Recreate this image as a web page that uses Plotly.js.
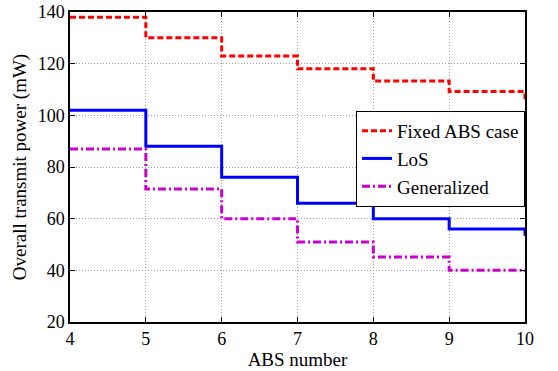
<!DOCTYPE html>
<html>
<head>
<meta charset="utf-8">
<script src="https://cdn.plot.ly/plotly-3.0.1.min.js"></script>
<style>
html,body{margin:0;padding:0;background:#fff;}
#chart{width:558px;height:371px;}
svg text{font-family:"Times New Roman","Liberation Serif",serif !important;}
</style>
</head>
<body>
<div id="chart"></div>
<script>
const absNumber = [4, 5, 6, 7, 8, 9, 10];
const fixedABS = [138, 130, 123, 118, 113.3, 109.2, 106];
const losPower = [102, 88, 76, 66, 60, 56, 53.4];
const generalized = [87, 71.5, 60, 51, 45.2, 40, 39.5];
const yTicks = [20, 40, 60, 80, 100, 120, 140];
const seriesNames = ["Fixed ABS case", "LoS", "Generalized"];

const serif = "Times New Roman";

const traces = [
  {x: absNumber, y: fixedABS, name: seriesNames[0], mode: "lines",
   line: {shape: "hv", color: "#ff0000", width: 3, dash: "6px,3px"}},
  {x: absNumber, y: losPower, name: seriesNames[1], mode: "lines",
   line: {shape: "hv", color: "#0000ff", width: 3}},
  {x: absNumber, y: generalized, name: seriesNames[2], mode: "lines",
   line: {shape: "hv", color: "#cc00cc", width: 3, dash: "8px,3px,2px,3px"}}
];

function axisBase() {
  return {
    showline: true, linecolor: "#000", linewidth: 1.5, mirror: "ticks",
    ticks: "inside", ticklen: 5, tickcolor: "#000", tickwidth: 1,
    showgrid: true, gridcolor: "#a0a0a0", griddash: "1px,2px", gridwidth: 1,
    zeroline: false, tickfont: {family: serif, size: 18, color: "#000"}
  };
}

const layout = {
  width: 558, height: 371,
  margin: {l: 70, r: 33, t: 12, b: 49},
  paper_bgcolor: "#fff", plot_bgcolor: "#fff",
  font: {family: serif, color: "#000"},
  showlegend: true,
  legend: {x: 1, xanchor: "right", y: 0.681, yanchor: "top",
           bgcolor: "#fff", bordercolor: "#000", borderwidth: 1,
           font: {family: serif, size: 19, color: "#000"},
           tracegroupgap: 0, itemwidth: 30},
  xaxis: Object.assign(axisBase(), {
    range: [4, 10], tickvals: absNumber, ticktext: absNumber.map(String),
    title: {text: "ABS number", font: {family: serif, size: 19, color: "#000"}, standoff: 4}
  }),
  yaxis: Object.assign(axisBase(), {
    range: [20, 140], tickvals: yTicks,
    title: {text: "Overall transmit power (mW)", font: {family: serif, size: 19, color: "#000"}, standoff: 6}
  })
};

Plotly.newPlot("chart", traces, layout, {displayModeBar: false});
</script>
</body>
</html>
